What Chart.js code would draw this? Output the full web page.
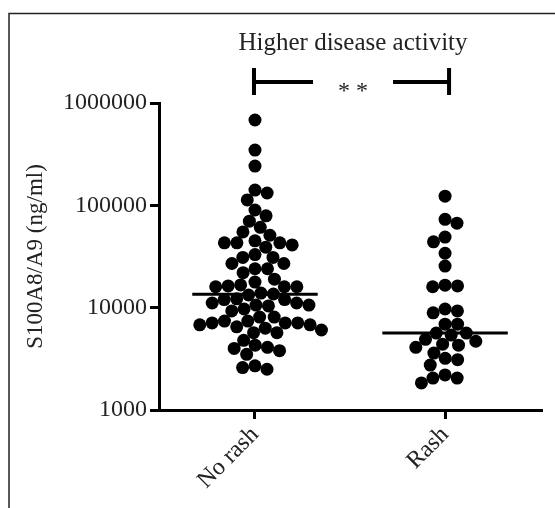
<!DOCTYPE html>
<html>
<head>
<meta charset="utf-8">
<script src="https://cdn.jsdelivr.net/npm/chart.js@4.4.1/dist/chart.umd.min.js"></script>
<style>
  html, body { margin: 0; padding: 0; background: #fff; }
  canvas { display: block; }
</style>
</head>
<body>
<canvas id="chart" width="555" height="508"></canvas>
<script>
/* S100A8/A9 by rash status — scatter dot plot, log y axis */

const categories = ['No rash', 'Rash'];
const yTicks = [1000, 10000, 100000, 1000000];
const medians = [13500, 5650];
const headline = 'Higher disease activity';
const significance = '* *';

const noRash = [
    682000, 347000, 242000, 141000, 132000, 113000, 90000, 79000, 70000, 61000,
    55000, 51000, 45000, 43000, 43000, 43000, 41000, 39000, 33000, 31000,
    31000, 27000, 27000, 24000, 24000, 22000, 19000, 17800, 16700, 16300,
    16000, 16000, 16000, 13900, 13600, 13300, 12200, 12000, 12000, 11100,
    11100, 10600, 10600, 10400, 9700, 9300, 8100, 8100, 7400, 7400,
    7100, 7100, 7100, 6800, 6800, 6500, 6300, 6050, 5700, 5700,
    4800, 4300, 4100, 4000, 3800, 3500, 2700, 2600, 2500
];
const rash = [
    123000, 73000, 67000, 49000, 44000, 34000, 25500, 16600, 16300, 16000,
    9700, 9300, 8900, 6900, 6900, 5650, 5650, 5400, 4900, 4700,
    4400, 4300, 4100, 3600, 3200, 3100, 2750, 2200, 2050, 2050, 1840
];

const groups = [noRash, rash];
const FONT = "'Liberation Serif', 'Times New Roman', serif";
const DOT = 12.5; // collision distance in px

// beeswarm: offsets in pixels, placed top to bottom, closest to centre
function swarmOffsets(values, yScale) {
    const pts = values.map((v, i) => ({ i, py: yScale.getPixelForValue(v) }));
    pts.sort((a, b) => a.py - b.py);
    const placed = [];
    const out = new Array(values.length).fill(0);
    let flip = 1;
    pts.forEach(p => {
        const forb = [];
        placed.forEach(q => {
            const dy = Math.abs(q.py - p.py);
            if (dy < DOT) {
                const w = Math.sqrt(DOT * DOT - dy * dy);
                forb.push([q.dx - w, q.dx + w]);
            }
        });
        const cands = [0];
        forb.forEach(f => cands.push(f[0], f[1]));
        cands.sort((a, b) => {
            const d = Math.abs(a) - Math.abs(b);
            if (Math.abs(d) > 1e-6) return d;
            return (b * flip) - (a * flip);
        });
        let dx = 0;
        for (const c of cands) {
            if (!forb.some(f => c > f[0] + 1e-6 && c < f[1] - 1e-6)) { dx = c; break; }
        }
        if (Math.abs(dx) > 1e-6) flip = -flip;
        placed.push({ py: p.py, dx });
        out[p.i] = dx;
    });
    return out;
}

const bracketPlugin = {
    id: 'bracket',
    afterDraw(chart) {
        const { ctx, chartArea, scales: { x } } = chart;
        const xl = x.getPixelForValue(1);
        const xr = x.getPixelForValue(2);
        const mid = (xl + xr) / 2 + 3;
        const yb = chartArea.top - 21;
        ctx.save();
        // frame
        ctx.strokeStyle = '#222';
        ctx.lineWidth = 1.5;
        ctx.beginPath();
        ctx.moveTo(9, 600);
        ctx.lineTo(9, 13.5);
        ctx.lineTo(600, 13.5);
        ctx.stroke();
        // headline
        ctx.fillStyle = '#222';
        ctx.font = '25px ' + FONT;
        ctx.textAlign = 'center';
        ctx.textBaseline = 'middle';
        ctx.fillText(headline, mid, 43);
        // bracket
        ctx.strokeStyle = '#000';
        ctx.lineWidth = 4;
        ctx.beginPath();
        ctx.moveTo(xl - 1, yb - 14); ctx.lineTo(xl - 1, yb + 13);
        ctx.moveTo(xr + 4, yb - 14); ctx.lineTo(xr + 4, yb + 13);
        ctx.moveTo(xl - 1, yb); ctx.lineTo(mid - 40, yb);
        ctx.moveTo(mid + 40, yb); ctx.lineTo(xr + 4, yb);
        ctx.stroke();
        ctx.font = '24px ' + FONT;
        ctx.textBaseline = 'alphabetic';
        ctx.fillText(significance, mid, yb + 16);
        ctx.restore();
    }
};

const ctx = document.getElementById('chart').getContext('2d');
const chart = new Chart(ctx, {
    type: 'scatter',
    data: {
        datasets: [
            ...groups.map((vals, g) => ({
                data: vals.map(v => ({ x: g + 1, y: v })),
                pointRadius: 6.5,
                pointBorderWidth: 0,
                pointBackgroundColor: '#000',
                pointBorderColor: '#000'
            })),
            ...medians.map((m, g) => ({
                type: 'line',
                data: [{ x: g + 1 - 0.33, y: m }, { x: g + 1 + 0.33, y: m }],
                borderColor: '#000',
                borderWidth: 3,
                pointRadius: 0,
                showLine: true
            }))
        ]
    },
    options: {
        responsive: false,
        animation: false,
        layout: { padding: { top: 103, left: 10, right: 13, bottom: 0 } },
        plugins: {
            legend: { display: false },
            tooltip: { enabled: false },
            title: { display: false }
        },
        scales: {
            x: {
                type: 'linear',
                min: 0.495,
                max: 2.51,
                afterBuildTicks: (s) => { s.ticks = categories.map((c, i) => ({ value: i + 1 })); },
                afterFit: (s) => { s.height = 98; },
                border: { display: true, color: '#000', width: 3 },
                grid: { display: true, drawOnChartArea: false, drawTicks: true, tickLength: 9, tickWidth: 3, tickColor: '#000' },
                ticks: {
                    color: '#222',
                    font: { family: FONT, size: 24 },
                    maxRotation: 45,
                    minRotation: 45,
                    padding: 2,
                    callback: (v) => categories[Math.round(v) - 1] || ''
                }
            },
            y: {
                type: 'logarithmic',
                min: 1000,
                max: 1000000,
                afterBuildTicks: (s) => { s.ticks = yTicks.map(v => ({ value: v })); },
                afterFit: (s) => { s.width = 149; },
                border: { display: true, color: '#000', width: 3 },
                grid: { display: true, drawOnChartArea: false, drawTicks: true, tickLength: 9, tickWidth: 3, tickColor: '#000' },
                title: {
                    display: true,
                    text: 'S100A8/A9 (ng/ml)',
                    color: '#222',
                    font: { family: FONT, size: 23 },
                    padding: { top: 12, bottom: 0 }
                },
                ticks: {
                    color: '#222',
                    font: { family: FONT, size: 24 },
                    padding: 3,
                    callback: (v) => String(v)
                }
            }
        }
    },
    plugins: [bracketPlugin]
});

// spread each group's dots sideways using the chart's own scales
groups.forEach((vals, g) => {
    const offs = swarmOffsets(vals, chart.scales.y);
    const cx = chart.scales.x.getPixelForValue(g + 1);
    chart.data.datasets[g].data = vals.map((v, i) => ({
        x: chart.scales.x.getValueForPixel(cx + offs[i]),
        y: v
    }));
});
chart.update('none');
</script>
</body>
</html>
